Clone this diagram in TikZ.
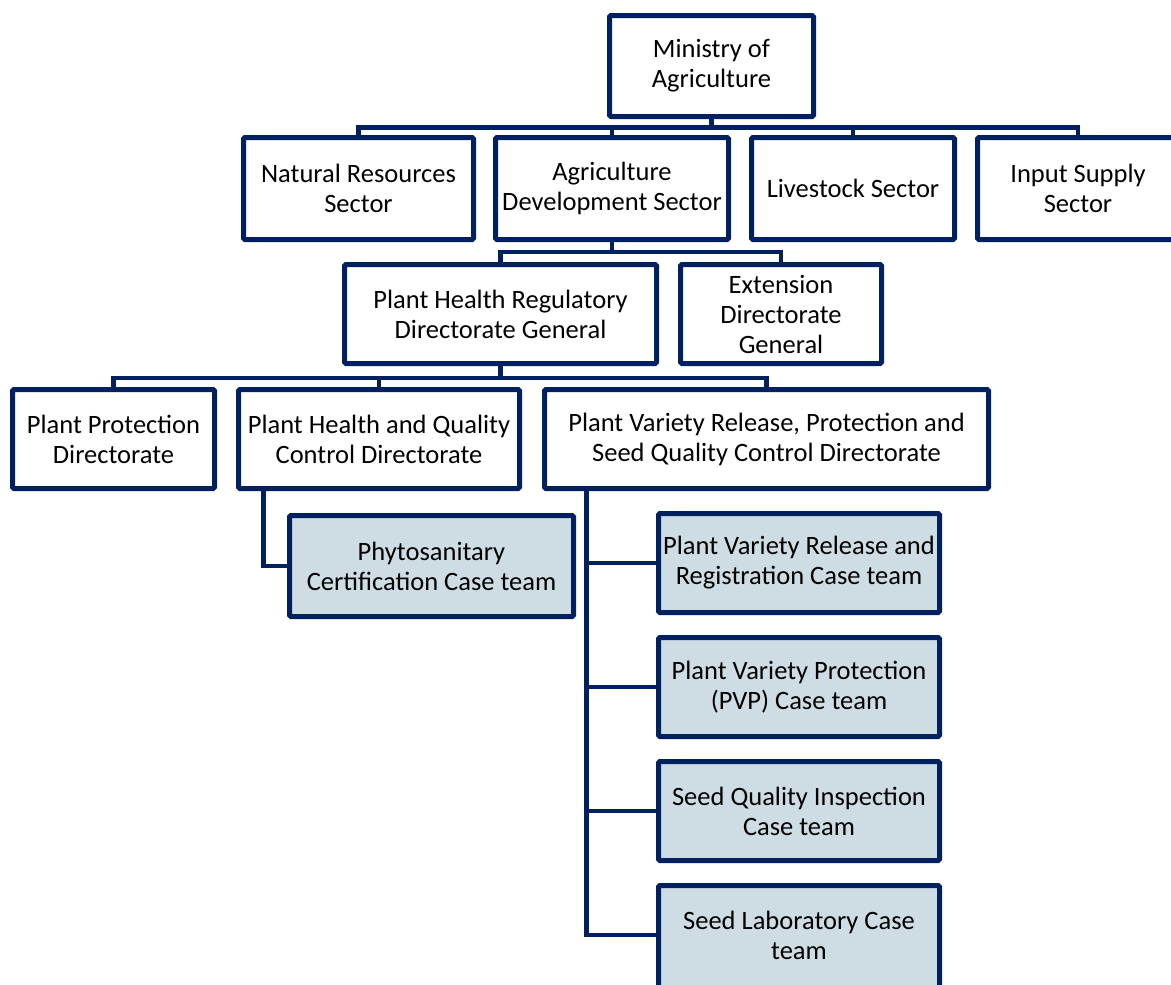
\documentclass[tikz,border=0pt]{standalone}
\usepackage{fontspec}
\setmainfont{Carlito}
\definecolor{navy}{RGB}{0,32,96}
\definecolor{teamfill}{RGB}{206,221,228}

\begin{document}
\begin{tikzpicture}[x=1pt,y=-1pt,
  txt/.style={align=center,inner sep=0pt,font=\fontsize{26.5}{30}\selectfont},
  unit/.style={txt,draw=navy,line width=5pt,rounded corners=1.5pt,fill=white,minimum height=99pt},
  team/.style={unit,fill=teamfill},
  link/.style={draw=navy,line width=4.5pt}]
\useasboundingbox (0,0) rectangle (1171,985);
\node[unit,minimum width=204pt,minimum height=101pt] (min) at (711.5,66) {Ministry of\\Agriculture};
\node[unit,minimum width=230pt,minimum height=102pt] (nat) at (358.5,188.5) {Natural Resources\\Sector};
\node[unit,minimum width=233pt,minimum height=102pt] (agr) at (612,188.5) {Agriculture\\Development Sector};
\node[unit,minimum width=203pt,minimum height=102pt] (liv) at (853,188.5) {Livestock Sector};
\node[unit,minimum width=201pt,minimum height=102pt] (inp) at (1078,188.5) {Input Supply\\Sector};
\node[unit,minimum width=312pt] (phr) at (500.5,314) {Plant Health Regulatory\\Directorate General};
\node[unit,minimum width=201pt] (ext) at (781,314) {Extension\\Directorate\\General};
\node[unit,minimum width=202pt] (ppd) at (113.5,439) {Plant Protection\\Directorate};
\node[unit,minimum width=281pt] (phq) at (379,439) {Plant Health and Quality\\Control Directorate};
\node[unit,minimum width=444pt] (pvr) at (766.5,439) {Plant Variety Release, Protection and\\Seed Quality Control Directorate};
\node[team,minimum width=284pt,minimum height=101pt] (phy) at (431.5,566) {Phytosanitary\\Certification Case team};
\node[team,minimum width=281pt] (rel) at (799,563) {Plant Variety Release and\\Registration Case team};
\node[team,minimum width=281pt] (pvp) at (799,687) {Plant Variety Protection\\(PVP) Case team};
\node[team,minimum width=281pt] (sqi) at (799,811) {Seed Quality Inspection\\Case team};
\node[team,minimum width=281pt,minimum height=112pt] (lab) at (799,941.5) {};
\node[txt] (labtext) at (799,935) {Seed Laboratory Case\\team};
\coordinate (bus1) at (711.5,127.5); \coordinate (bus2) at (612,252); \coordinate (bus3) at (500.5,378);
\draw[link] (min.south) -- (bus1); \draw[link] (nat.north) |- (bus1) -| (inp.north);
\draw[link] (agr.north) -- (agr.north |- bus1); \draw[link] (liv.north) -- (liv.north |- bus1);
\draw[link] (agr.south) -- (bus2); \draw[link] (phr.north) |- (bus2) -| (ext.north);
\draw[link] (phr.south) -- (bus3); \draw[link] (ppd.north) |- (bus3) -| (pvr.north);
\draw[link] (phq.north) -- (phq.north |- bus3);
\draw[link] ([xshift=27.5pt]phq.south west) |- (phy.west);
\foreach \t in {rel,pvp,sqi} \draw[link] ([xshift=44.5pt]pvr.south west) |- (\t.west);
\draw[link] ([xshift=44.5pt]pvr.south west) |- (labtext.west -| lab.west);
\end{tikzpicture}
\end{document}
